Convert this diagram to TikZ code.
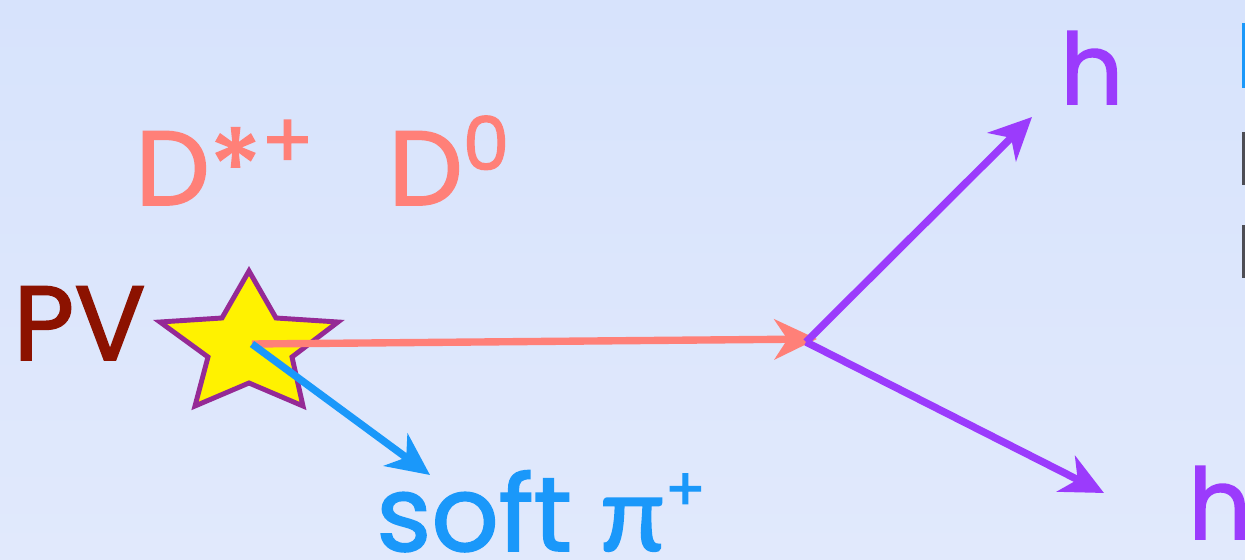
\documentclass[tikz,border=0pt]{standalone}
\usepackage{fontspec}
\setmainfont{Poppins}[FakeBold=1.6]
\newfontfamily\greekfont{Lato}[FakeBold=1.6]
\usetikzlibrary{arrows.meta,positioning}
\definecolor{bgtop}{HTML}{D7E3FC}
\definecolor{bgbot}{HTML}{E1E9FC}
\definecolor{dcolor}{HTML}{FF8078}
\definecolor{picolor}{HTML}{1A98FA}
\definecolor{hcolor}{HTML}{9B3BFC}
\definecolor{pvcolor}{HTML}{8C1200}
\definecolor{starline}{HTML}{952A95}
\definecolor{cutgrey}{HTML}{4D4D55}
\newcommand{\supup}[3]{\raisebox{#1}{\fontsize{#2}{#2}\selectfont #3}}

\begin{document}
\begin{tikzpicture}[x=0.02cm,y=-0.02cm,
  trk/.style={line width=4.2pt,-{Stealth[length=8.5mm,width=8mm,inset=2.6mm]}},
  lab/.style={font=\fontsize{60}{70}\selectfont,inner sep=0pt,text depth=0pt,
              anchor=base west},
  hlab/.style={lab,hcolor,font=\fontsize{56}{66}\selectfont}]
  \useasboundingbox (0,0) rectangle (1245,560);
  \shade[top color=bgtop,bottom color=bgbot] (0,0) rectangle (1245,560);
  % primary vertex
  \draw[starline,line width=2.8pt,fill=yellow,line join=miter]
    (249,271) -- (276,318) -- (338,322) -- (292,357) -- (303,406) --
    (249,383) -- (195,406) -- (208,357) -- (160,322) -- (222,318) -- cycle;
  \coordinate (pv) at (252,344);
  \coordinate (dvx) at (806,342);
  \coordinate (dtip) at (817,339);
  \coordinate (hup) at (1032,117);
  \coordinate (hdn) at (1104,493);
  \coordinate (spitip) at (430,475);
  % labels
  \node[lab,pvcolor] (pvlab) at (13,360) {PV};
  \node[lab,dcolor] (dst) at (135,205) {D*\supup{21pt}{44}{+}};
  \node[lab,dcolor] (dzero) at (388,205) {D\supup{20pt}{42}{0}};
  \node[hlab] (h1) at (1060,104) {h};
  \node[hlab] (h2) at (1188,539) {h};
  \node[lab,picolor] (spi) at (376,551) {soft {\greekfont π}\supup{23pt}{34}{+}};
  % tracks
  \draw[trk,dcolor] (pv) -- (dtip);
  \draw[trk,picolor] (pv) -- (spitip);
  \draw[trk,hcolor] (dvx) -- (hup);
  \draw[trk,hcolor] (dvx) -- (hdn);
  % text cut off at the right edge
  \fill[picolor] (1242,23) rectangle (1245,88);
  \fill[cutgrey] (1242,132) rectangle (1245,185);
  \fill[cutgrey] (1242,225) rectangle (1245,278);
\end{tikzpicture}
\end{document}
